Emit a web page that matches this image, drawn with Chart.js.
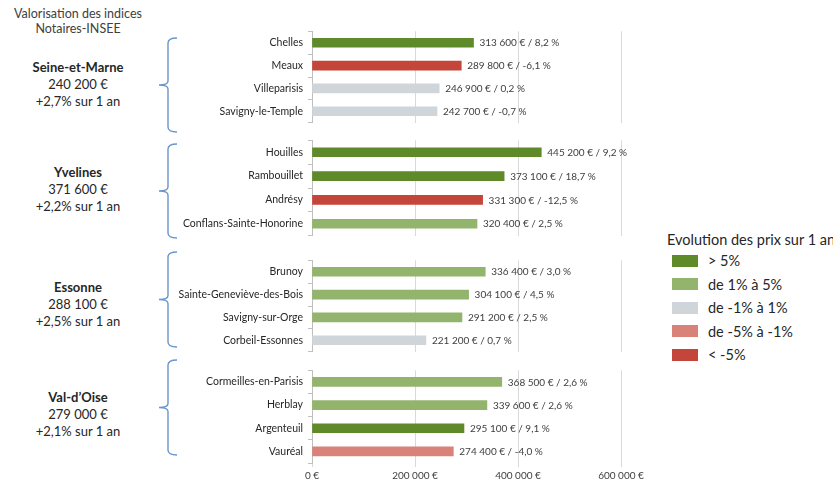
<!DOCTYPE html>
<html lang="fr">
<head>
<meta charset="utf-8">
<script src="https://cdn.jsdelivr.net/npm/chart.js@4.4.0/dist/chart.umd.min.js"></script>
<style>
  html, body { margin: 0; padding: 0; background: #fff; overflow: hidden; }
  body { width: 833px; height: 481px; position: relative; font-family: Lato, 'Open Sans', sans-serif; color: #262626; }
  canvas.panel { position: absolute; left: 0; }
  .title { position: absolute; left: 0; top: 6px; width: 156px; text-align: center; font-size: 12.5px; line-height: 15px; color: #404040; }
  .dept { position: absolute; left: 0; width: 156px; text-align: center; font-size: 13px; line-height: 17px; }
  .dept b { font-weight: bold; }
  .legend { position: absolute; left: 667px; top: 231px; font-size: 14.5px; white-space: nowrap; }
  .legend .row { display: flex; align-items: center; height: 23.5px; margin-left: 5px; }
  .legend .sw { width: 26px; height: 12px; margin-right: 10px; }
  svg { position: absolute; left: 0; top: 0; }
</style>
</head>
<body>
<div class="title">Valorisation des indices<br>Notaires-INSEE</div>
<svg id="braces" width="833" height="481"></svg>
<div id="depts"></div>
<div class="legend" id="legend"><div style="height:18px">Evolution des prix sur 1 an</div></div>

<script>
// Departments (groups) and their summary figures
const departments = ['Seine-et-Marne', 'Yvelines', 'Essonne', 'Val-d\u2019Oise'];
const deptPrices = [240200, 371600, 288100, 279000];
const deptChanges = ['+2,7%', '+2,2%', '+2,5%', '+2,1%'];

// Towns per department
const towns = [
  ['Chelles', 'Meaux', 'Villeparisis', 'Savigny-le-Temple'],
  ['Houilles', 'Rambouillet', 'Andrésy', 'Conflans-Sainte-Honorine'],
  ['Brunoy', 'Sainte-Geneviève-des-Bois', 'Savigny-sur-Orge', 'Corbeil-Essonnes'],
  ['Cormeilles-en-Parisis', 'Herblay', 'Argenteuil', 'Vauréal']
];
// Median price (EUR)
const prices = [
  [313600, 289800, 246900, 242700],
  [445200, 373100, 331300, 320400],
  [336400, 304100, 291200, 221200],
  [368500, 339600, 295100, 274400]
];
// Price change over 1 year (%)
const changes = [
  [8.2, -6.1, 0.2, -0.7],
  [9.2, 18.7, -12.5, 2.5],
  [3.0, 4.5, 2.5, 0.7],
  [2.6, 2.6, 9.1, -4.0]
];
const xTicks = [0, 200000, 400000, 600000];

// Legend classes
const classLabels = ['> 5%', 'de 1% à 5%', 'de -1% à 1%', 'de -5% à -1%', '< -5%'];
const classColors = ['#5e8a2a', '#93b46c', '#d0d5d9', '#d9827a', '#c4453a'];

// Layout of the four panels (chart area top / height) and braces
const panelTop = [30, 139, 259, 369];
const panelHeight = [94, 98, 94, 94];
const braceSpan = [[38, 132], [144, 238], [252, 347], [360, 455]];
const deptTextTop = [59, 164, 279, 389];

function classColor(pct) {
  if (pct > 5) return classColors[0];
  if (pct >= 1) return classColors[1];
  if (pct > -1) return classColors[2];
  if (pct >= -5) return classColors[3];
  return classColors[4];
}
function fmtNum(v) {
  return String(v).replace(/\B(?=(\d{3})+(?!\d))/g, ' ');
}
function fmtPct(p) {
  return p.toFixed(1).replace('.', ',') + ' %';
}

// Legend
const legendEl = document.getElementById('legend');
classLabels.forEach((lab, i) => {
  const row = document.createElement('div');
  row.className = 'row';
  row.innerHTML = `<div class="sw" style="background:${classColors[i]}"></div><span>${lab.replace('<', '&lt;')}</span>`;
  legendEl.appendChild(row);
});

// Department texts and braces
const deptsEl = document.getElementById('depts');
const svg = document.getElementById('braces');
departments.forEach((d, i) => {
  const div = document.createElement('div');
  div.className = 'dept';
  div.style.top = deptTextTop[i] + 'px';
  div.innerHTML = `<b>${d}</b><br>${fmtNum(deptPrices[i])} €<br>${deptChanges[i]} sur 1 an`;
  deptsEl.appendChild(div);

  const [t, b] = braceSpan[i];
  const m = (t + b) / 2;
  const path = document.createElementNS('http://www.w3.org/2000/svg', 'path');
  path.setAttribute('d',
    `M177 ${t} Q168 ${t} 168 ${t + 5} L168 ${m - 4} Q168 ${m} 159 ${m} Q168 ${m} 168 ${m + 4} L168 ${b - 5} Q168 ${b} 177 ${b}`);
  path.setAttribute('fill', 'none');
  path.setAttribute('stroke', '#6b95cc');
  path.setAttribute('stroke-width', '1.4');
  svg.appendChild(path);
});

// Value labels at bar ends
const barLabels = {
  id: 'barLabels',
  afterDatasetsDraw(chart) {
    const ctx = chart.ctx;
    const g = chart.options.plugins.barLabels.group;
    ctx.save();
    ctx.font = '10px Lato, sans-serif';
    ctx.fillStyle = '#404040';
    ctx.textBaseline = 'middle';
    chart.getDatasetMeta(0).data.forEach((bar, j) => {
      ctx.fillText(fmtNum(prices[g][j]) + ' € / ' + fmtPct(changes[g][j]), bar.x + 6, bar.y + 0.5);
    });
    ctx.restore();
  }
};

departments.forEach((d, g) => {
  const last = g === departments.length - 1;
  const canvas = document.createElement('canvas');
  canvas.className = 'panel';
  const padTop = 10;
  const axisH = last ? 22 : 0;
  const padBottom = last ? 0 : 10;
  const h = padTop + panelHeight[g] + axisH + padBottom;
  canvas.style.top = (panelTop[g] - padTop) + 'px';
  canvas.width = 833;
  canvas.height = h;
  document.body.appendChild(canvas);

  new Chart(canvas, {
    type: 'bar',
    data: {
      labels: towns[g],
      datasets: [{
        data: prices[g],
        backgroundColor: changes[g].map(classColor),
        barThickness: 9,
        borderWidth: 0
      }]
    },
    options: {
      indexAxis: 'y',
      responsive: false,
      maintainAspectRatio: false,
      animation: false,
      devicePixelRatio: 1,
      layout: { padding: { top: padTop, bottom: padBottom, left: 0, right: 833 - 621 } },
      plugins: {
        legend: { display: false },
        tooltip: { enabled: false },
        barLabels: { group: g }
      },
      scales: {
        x: {
          min: xTicks[0],
          max: xTicks[xTicks.length - 1],
          afterBuildTicks: (s) => { s.ticks = xTicks.map(v => ({ value: v })); },
          afterFit: (s) => { s.height = axisH; },
          border: { display: false },
          grid: { color: '#d9d9d9', drawTicks: last, tickLength: 4 },
          ticks: {
            display: last,
            padding: 3,
            color: '#404040',
            font: { family: 'Lato', size: 10 },
            callback: (v) => fmtNum(v) + ' €'
          }
        },
        y: {
          afterFit: (s) => { s.width = 312; },
          border: { display: true, color: '#bfbfbf' },
          grid: { drawOnChartArea: false, drawTicks: true, tickLength: 4, color: '#bfbfbf', offset: true },
          ticks: {
            padding: 5,
            color: '#262626',
            font: { family: 'Lato', size: 10.5 }
          }
        }
      }
    },
    plugins: [barLabels]
  });
});
</script>
</body>
</html>
